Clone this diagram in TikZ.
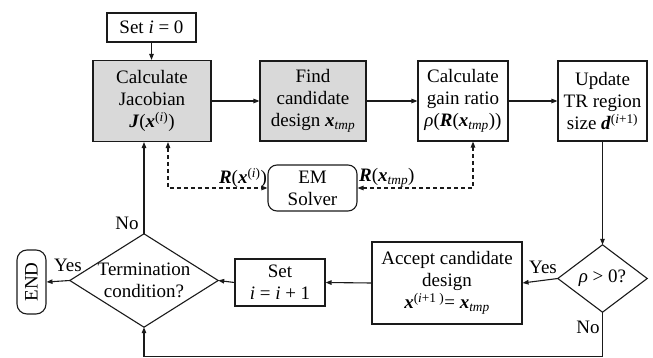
\documentclass[tikz,border=0pt]{standalone}
\usepackage{fontspec}
\setmainfont{Liberation Serif}
\usetikzlibrary{arrows.meta}
\newcommand{\bx}[1]{\textbf{\textit{#1}}}
\definecolor{boxgray}{HTML}{D9D9D9}
\definecolor{linegray}{HTML}{1A1A1A}
\begin{document}
\begin{tikzpicture}[x=1pt,y=-1pt,
  every node/.style={font=\fontsize{19}{22}\selectfont, inner sep=0pt},
  box/.style={draw=linegray, line width=1.1pt, align=center},
  flow/.style={-{Triangle[length=6pt,width=4.5pt]}, draw=linegray, line width=1.1pt},
  biflow/.style={{Triangle[length=6pt,width=4.5pt]}-{Triangle[length=6pt,width=4.5pt]}, draw=linegray, line width=1.1pt, dash pattern=on 4pt off 3pt},
  lbl/.style={align=center}]
\useasboundingbox (0,0) rectangle (653,358);

% top row
\node[box, minimum width=89, minimum height=29] (set0) at (151.5,27.5) {Set \textit{i} = 0};
\node[box, fill=boxgray, minimum width=118, minimum height=81] (jac) at (152,101)
  {Calculate\\Jacobian\\\bx{J}(\bx{x}\textsuperscript{(\textit{i})})};
\node[box, fill=boxgray, minimum width=106, minimum height=80] (find) at (313,101)
  {Find\\candidate\\design \bx{x}\textsubscript{\textit{tmp}}};
\node[box, minimum width=90, minimum height=80] (gain) at (463,101)
  {Calculate\\gain ratio\\\textit{ρ}(\bx{R}(\bx{x}\textsubscript{\textit{tmp}}))};
\node[box, minimum width=89, minimum height=80] (upd) at (602.5,101)
  {Update\\TR region\\size \bx{d}\textsuperscript{(\textit{i}+1)}};

% solver
\node[box, rounded corners=9pt, minimum width=89, minimum height=46] (em) at (312.5,188)
  {EM\\Solver};

% bottom row
\node[lbl, minimum width=89, minimum height=67] (rho) at (602.5,278.5) {\textit{ρ} > 0?};
\draw[draw=linegray, line width=1.1pt] (rho.north) -- (rho.east) -- (rho.south) -- (rho.west) -- cycle;
\node[box, minimum width=150, minimum height=82] (acc) at (447,283)
  {Accept candidate\\design\\\bx{x}\textsuperscript{(\textit{i}+1 )}= \bx{x}\textsubscript{\textit{tmp}}};
\node[box, minimum width=90, minimum height=47] (seti) at (280,282.5)
  {Set\\\textit{i} = \textit{i} + 1};
\node[lbl, minimum width=148, minimum height=93] (term) at (144,280.5) {Termination\\condition?};
\draw[draw=linegray, line width=1.1pt] (term.north) -- (term.east) -- (term.south) -- (term.west) -- cycle;
\node[box, rounded corners=10pt, minimum width=29, minimum height=64] (end) at (31.5,282)
  {\rotatebox{90}{END}};

% main flow
\draw[flow] (set0.south) -- (set0.south |- jac.north);
\draw[flow] (jac.east) -- (find.west);
\draw[flow] (find.east) -- (gain.west);
\draw[flow] (gain.east) -- (upd.west);
\draw[flow] (upd.south) -- (rho.north);
\draw[flow] (rho.west) -- (acc.east);
\draw[flow] (acc.west) -- (seti.east);
\draw[flow] (seti.west) -- (term.east);
\draw[flow] (term.west) -- (end.east);
\draw[flow] (term.north) -- (term.north |- jac.south);
\draw[flow] (rho.south) -- ++(0,44) -| (term.south);

% solver exchange
\draw[biflow] ([xshift=16pt]jac.south) |- (em.west);
\draw[biflow] ([xshift=10pt]gain.south) |- (em.east);

% labels
\node at (543,267) {Yes};
\node at (68,265) {Yes};
\node at (127,223) {No};
\node at (588,327) {No};
\node at (243,178) {\bx{R}(\bx{x}\textsuperscript{(\textit{i})})};
\node[anchor=west] at (359,178) {\bx{R}(\bx{x}\textsubscript{\textit{tmp}})};
\end{tikzpicture}
\end{document}
